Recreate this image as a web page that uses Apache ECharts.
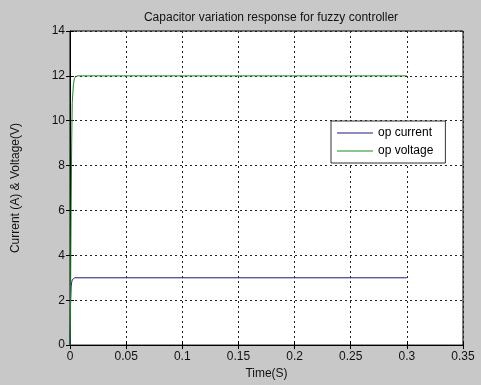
<!DOCTYPE html>
<html>
<head>
<meta charset="utf-8">
<script src="https://cdn.jsdelivr.net/npm/echarts@6/dist/echarts.min.js"></script>
<style>
  html, body { margin: 0; padding: 0; background: #c8c8c8; }
  #chart { width: 481px; height: 385px; }
</style>
</head>
<body>
<div id="chart"></div>
<script>
// time (s), value pairs
var currentData = [[0, 0], [0.0005, 1.8], [0.001, 2.6], [0.0015, 2.8], [0.002, 2.9], [0.003, 2.97], [0.004, 3], [0.3, 3]];
var voltageData = [[0, 0], [0.0005, 2], [0.001, 6], [0.0015, 9], [0.002, 10.8], [0.003, 11.6], [0.004, 11.9], [0.006, 12], [0.3, 12]];
var seriesNames = ['op current', 'op voltage'];

var font = 'Liberation Sans, Arial, sans-serif';
var chart = echarts.init(document.getElementById('chart'));

var dashed = { show: true, lineStyle: { color: '#222', type: [2, 3], width: 1 } };

chart.setOption({
  backgroundColor: '#c8c8c8',
  animation: false,
  title: {
    text: 'Capacitor variation response for fuzzy controller',
    left: 266, top: 7, textAlign: 'center',
    textStyle: { fontFamily: font, fontSize: 12, fontWeight: 'normal', color: '#111' }
  },
  legend: {
    data: seriesNames,
    orient: 'vertical',
    left: 331, top: 121,
    width: 100,
    padding: [6, 12, 6, 6],
    itemGap: 6,
    itemWidth: 36, itemHeight: 1,
    icon: 'rect',
    backgroundColor: '#fff',
    borderColor: '#333', borderWidth: 1,
    textStyle: { fontFamily: font, fontSize: 12, color: '#000' }
  },
  grid: {
    left: 70, right: 18, top: 31, bottom: 35,
    show: true, backgroundColor: '#fff', borderColor: '#000', borderWidth: 1
  },
  xAxis: [{
    type: 'value', min: 0, max: 0.35, interval: 0.05,
    name: 'Time(S)', nameLocation: 'middle', nameGap: 22,
    nameTextStyle: { fontFamily: font, fontSize: 12, color: '#111' },
    axisLine: { show: true, lineStyle: { color: '#000' } },
    axisTick: { show: true, inside: true, length: 4, lineStyle: { color: '#000' } },
    axisLabel: { fontFamily: font, fontSize: 12, color: '#111', margin: 6 },
    splitLine: dashed
  }, {
    type: 'value', min: 0, max: 0.35, interval: 0.05, position: 'top',
    axisLine: { show: false },
    axisTick: { show: true, inside: true, length: 4, lineStyle: { color: '#000' } },
    axisLabel: { show: false },
    splitLine: { show: false }
  }],
  yAxis: [{
    type: 'value', min: 0, max: 14, interval: 2,
    name: 'Current (A) & Voltage(V)', nameLocation: 'middle', nameGap: 48,
    nameTextStyle: { fontFamily: font, fontSize: 12, color: '#111' },
    axisLine: { show: true, lineStyle: { color: '#000' } },
    axisTick: { show: true, inside: true, length: 4, lineStyle: { color: '#000' } },
    axisLabel: { fontFamily: font, fontSize: 12, color: '#111', margin: 5 },
    splitLine: dashed
  }, {
    type: 'value', min: 0, max: 14, interval: 2, position: 'right',
    axisLine: { show: false },
    axisTick: { show: true, inside: true, length: 4, lineStyle: { color: '#000' } },
    axisLabel: { show: false },
    splitLine: { show: false }
  }],
  series: [{
    name: seriesNames[0], type: 'line', data: currentData,
    showSymbol: false, symbol: 'none',
    lineStyle: { color: '#1a1a80', width: 1 }, itemStyle: { color: '#1a1a80' }
  }, {
    name: seriesNames[1], type: 'line', data: voltageData,
    showSymbol: false, symbol: 'none',
    lineStyle: { color: '#1e8a1e', width: 1 }, itemStyle: { color: '#1e8a1e' }
  }]
});
</script>
</body>
</html>
